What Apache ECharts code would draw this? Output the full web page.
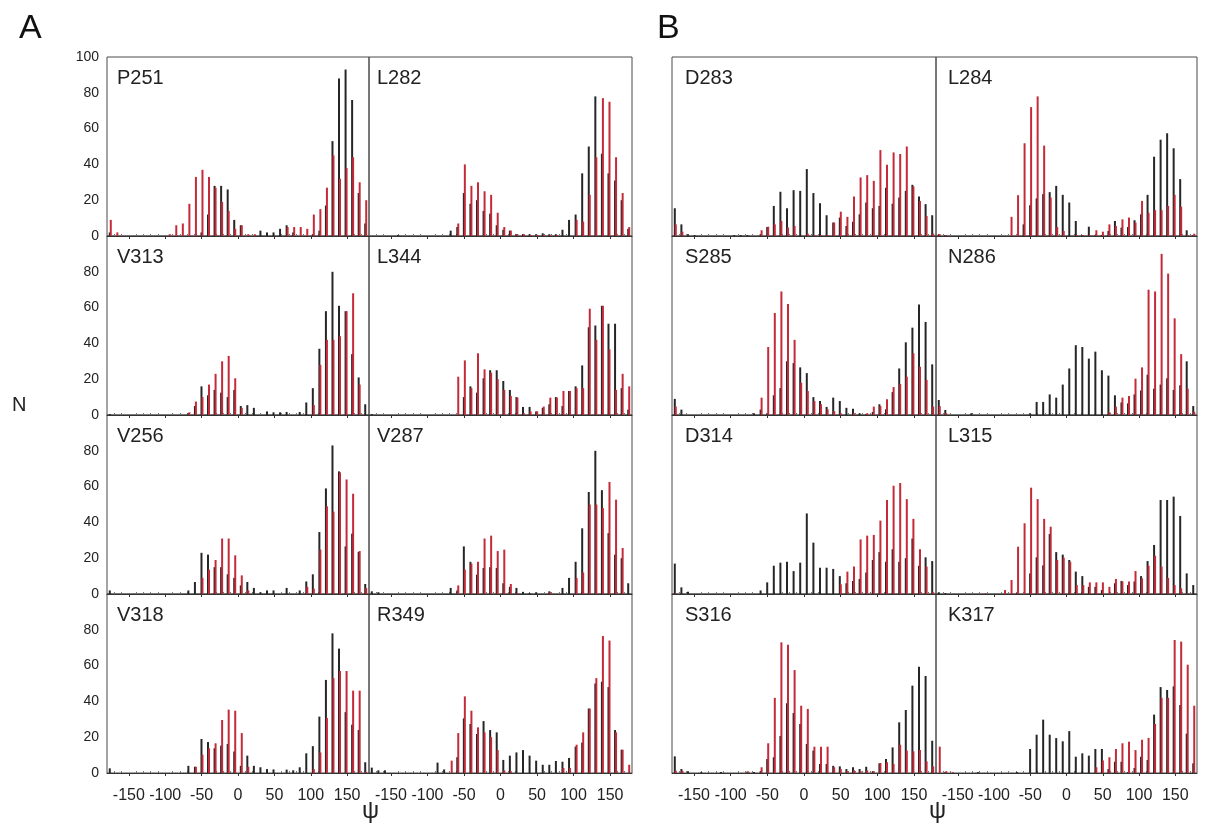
<!DOCTYPE html>
<html><head><meta charset="utf-8">
<script src="https://cdn.jsdelivr.net/npm/echarts@6/dist/echarts.min.js"></script>
<style>html,body{margin:0;padding:0;background:#fff}#c{width:1205px;height:827px}</style>
</head><body><div id="c"></div>
<script>
// 9-degree psi bins, centres
const binCenters = [-175.5,-166.5,-157.5,-148.5,-139.5,-130.5,-121.5,-112.5,-103.5,-94.5,-85.5,-76.5,-67.5,-58.5,-49.5,-40.5,-31.5,-22.5,-13.5,-4.5,4.5,13.5,22.5,31.5,40.5,49.5,58.5,67.5,76.5,85.5,94.5,103.5,112.5,121.5,130.5,139.5,148.5,157.5,166.5,175.5];
const xTickLabels = [-150,-100,-50,0,50,100,150];
const xMinorTicks = [-170,-160,-140,-130,-120,-110,-90,-80,-70,-60,-40,-30,-20,-10,10,20,30,40,60,70,80,90,110,120,130,140,160,170];
const yTickLabels = [0,20,40,60,80,100];

const P251_black = [2,0,0,0,0,0,0,0,0,0, 0,0,0,0,2,12,28,28,26,9, 6,0,0,3,2,2,4,6,2,0, 0,1,3,17,53,88,93,76,24,7];
const P251_red   = [9,2,0,0,0,0,0,0,0,1, 6,7,18,33,37,33,27,19,14,4, 6,1,1,0,0,0,0,5,5,5, 4,12,15,27,45,32,38,44,30,20];
const L282_black = [0,0,0,0,0.5,0,0,0,0,0, 0,0,3,5,24,18,20,14,12.5,6, 3.5,3,1,1,1,1,1.5,1,1,3.5, 9,12,35,50,78,46,35,31,20,4];
const L282_red   = [0,0,0,0,0,0,0,0,0,0, 0,0,0,7,40,28,30,25,23,13, 5,3,1,1,0.5,0.5,0.5,0.5,0.5,0, 0,9,8,23,44,77,75,44,24,5];
const V313_black = [0.5,0,0,0,0,0,0,0,0,0, 0,0,1,5,16,11,14,12.5,10,14, 5,5.5,4,0,2,1.5,1.5,1.7,0,1.7, 7,15,37,58,80,61,58,34,21,6];
const V313_red   = [0,0,0,0,0,0,0,0,0,0, 0,0,1.5,7.5,10,17,23,30,33,20.5, 4,0,0,0,0,0,0,0,0,0, 0,5.6,28,42,42,44,58,68,17,0];
const L344_black = [0.5,0,0,0,0,0,0,0,0,0, 0,0,0,0,10,16,12.5,20.5,25,25, 19,14,10,4.5,4.5,2,4,6,10,5, 13.4,16,27.7,49,50,61,51,51,15,3];
const L344_red   = [0,0,0,0,0,0,0,0,0,0, 0,0,0,21.4,30.5,15,34.5,25.5,23.6,20, 14,10.6,9.7,1,2,2,4.7,9.7,9.7,13.4, 13.4,15,15,59.4,42,61,36.7,14,23,16];
const V256_black = [2,0,0,0,0,0,0,0,0,0, 0,0,2,6.7,23,22,15,15,11,9, 4.8,6.7,3.4,1,2,2,0,3.4,0,2, 7,11,34.6,59,83,68.5,26.6,33.7,23.5,5.6];
const V256_red   = [0,0,0,0,0,0,0,0,0,0, 0,0,0,0,9,13.6,19,31,31,21.6, 10.4,2,0,0,0,0,0,0,0,0, 4,3,24.8,49,46,68,64,56,24,3.4];
const V287_black = [1.5,1,0,0,0,0,0,0,0,0, 0,0,3.4,2,26.6,18,10.8,14.5,15,14.5, 6,4,3.4,1.2,0.5,1,0,1.5,0,3.4, 9,18,36.7,57,80,58,34,22,20,6];
const V287_red   = [0,0,0,0,0,0,0,0,0,0, 0,0,0,4.8,13.6,17,18,31,32.6,24, 24.8,5.6,0.5,0,0,0,0,1,0,0, 0,9,12,50,50,48,62.6,52.7,25.7,0];
const V318_black = [2.6,0,0,0,0,0,0,0,0,0, 0,0,4,3.5,19,17.3,13.8,15.3,16.2,12, 4,9.7,4,3.2,2.2,2,0,1.9,1.5,3.2, 11,15,31.5,52,78,69.5,34,27,24,6];
const V318_red   = [0,0,0,0,0,0,0,0,0,0, 0,0,0,3.5,10.2,13.8,16.6,29.6,35.4,34.8, 22.3,3.5,0,0,0,0,0,0,0,0, 0,2.2,11.5,30.7,53,57,57,46,46,0.7];
const R349_black = [3,1.5,1.5,0,0,0,0,0,0,0, 5.8,2,0,8.8,30.5,27.4,21.8,29,24,22.7, 7.3,9.7,11.5,12.8,9.7,6.9,4.6,4.6,6.7,6.3, 8.4,14.7,17,36,50,51,48,24,13,0];
const R349_red   = [0,0,0,0,0,0,0,0,0,0, 0,0,6.9,22.3,42.8,34.8,25.5,22.7,20,12.8, 1.5,1,0,0,0,0,0,0,0,2.8, 2.8,15.8,22.7,36,53,76.5,74,22.7,13,4.6];

const D283_black = [15.5,6.5,1,0.5,0,0,0,0,0,0.5, 0.5,0.5,0,1,5,16.8,24.7,15.5,25.6,25.2, 37.4,24,18.3,11.6,7.5,10.3,5.6,8,12.1,18.7, 15.5,16.8,27,18,21.5,25.2,28.6,22,17.8,11.6];
const D283_red   = [6.5,2.4,0,0,0,0,0,0,0,0, 0,0,0,3.2,5.2,6.5,8.4,4.7,5.6,0, 1.3,0.5,0.5,0.5,7.5,13.6,10.7,22,32.7,34, 30.8,48,39.8,46.7,45.8,50,27.7,19.6,11.2,1.3];
const L284_black = [1,0.5,0,0,0,0,0,0,0,0, 0,0,0,6.5,17.2,21,23.4,24.5,28,23, 18.7,8.4,0.5,5.2,0.5,0.5,2.8,8.4,4.7,5, 8.8,12.1,23,44.3,53.8,57.4,49,31.8,3.2,0.5];
const L284_red   = [1,0.5,0,0,0,0,0,0,0,0, 0,10.7,22.8,51.8,72,78,50.5,21.5,5,2.8, 0,0.5,0.5,0.5,3.2,2.4,6.5,5.6,9.3,10.3, 7.5,19.6,13,14.4,14.4,16.8,23,16.4,0.5,1.3];
const S285_black = [9,3,0,0,0,0,0,0,0,0, 0,0,1,3,1,11,15,30,29,26.6, 23.4,10,7.8,4.5,9.7,7.8,4,3.5,1,0.5, 1.7,6,3.2,12.8,26,40.6,48.8,61.8,52,28.3];
const S285_red   = [4.7,0,0,0,0,0,0,0,0,0, 0,0,0,9.7,38,57,69,62,42,18, 13.4,7.8,6,3.2,2.2,1,0,1,0,1, 4.7,5,8.8,15.6,17.3,21.4,34.5,27,19.6,4.7];
const N286_black = [8.4,2.8,0,0,0,1,0,0,0,0, 0,0,0,0,1,7.3,7.3,11.5,9.7,17, 26,39,38,31.5,35.4,25,22,11,7,6.5, 11.5,13.7,22.5,14.7,17,20.5,14,16.6,30,5];
const N286_red   = [5,1,0,0,0,0,0,0,0,0, 0,0,0,0,0,0,0,0,0,0, 0,0,0,0,0,0,1.5,4.7,9.7,10.6, 20.3,26.6,70,69,90,79,54,34,14.7,1.8];
const D314_black = [17,3.7,1.3,0,0,0,0,0,0,0, 0,0,0,2,6.5,15.8,17.5,18,12.8,17.5, 45,28.7,14.7,14.7,14,10,6,7.3,8.4,12, 19,23.4,18,25,18,20,31,15.8,20.5,18.4];
const D314_red   = [0.5,0,0,0,0,0,0,0,0,0, 0,0,0,0,0,0,0,0,0,0, 0,0,0,0,0,5.4,12.5,15.3,30.5,32.6, 33,41,52.5,60.5,62,53,42,25,15.3,1];
const L315_black = [1,0.5,0,0,0,0,0,0,0,0, 0,0,0.5,0,11.5,20.5,16,33.5,23.4,22, 19,12.5,10,4,4,2.2,0,6,7.3,5, 7,10,18.4,27.4,52.5,52.5,54.4,43.6,11.5,5];
const L315_red   = [0,0,0,0,0,0,0,0.5,0,0, 2.2,7.8,26.4,39.5,59.4,53,42,37.6,19,20.3, 18,5,5,6.5,6.5,6.5,4,8.4,7,7, 12.8,8.8,15.8,21.4,15.3,9,5,3.2,0.5,0];
const S316_black = [9.3,2.2,1,0,0.5,0,0,0.5,0,0, 0,0.8,0.5,1,7.8,8.8,20.7,39,33.5,27.4, 16.2,12.5,5,5,4,3.7,2.2,3.2,2.2,3.5, 1,5.4,7.8,14.3,28.3,35.2,48.8,59.4,54.2,18];
const S316_red   = [1.3,1.3,0,0,0,0,0,0,0,0, 0,0.8,0,3.2,16.6,42,73,71.7,57.5,37.6, 35.8,14.7,14.7,14.7,3.2,2.2,1,1.5,1,1.5, 1,5.6,6,5,15.8,12.5,12.1,12.8,6.5,3.7];
const K317_black = [0,0.5,0,0,0,0,0.5,0,0,0, 0,0,0.5,0,13.4,21.4,29.8,21.4,19.5,17.7, 23.4,9.1,11,9.7,13.4,13.4,2.2,6.3,6.3,0.5, 2.8,9.1,7.3,32.6,48,46.4,48.4,38,22,5.4];
const K317_red   = [14.7,1,0.5,0,0,0,0,0,0,0, 0,0,0,0,0,0,0,0,0,0, 0,0,0,0,3.2,7,8.8,13.4,16.6,17.5, 12.8,18.6,19.6,27.4,42,42,74.3,73.4,60.5,37.6];

const panels = [
  {name:'P251', black:P251_black, red:P251_red, col:0, row:0},
  {name:'L282', black:L282_black, red:L282_red, col:1, row:0},
  {name:'V313', black:V313_black, red:V313_red, col:0, row:1},
  {name:'L344', black:L344_black, red:L344_red, col:1, row:1},
  {name:'V256', black:V256_black, red:V256_red, col:0, row:2},
  {name:'V287', black:V287_black, red:V287_red, col:1, row:2},
  {name:'V318', black:V318_black, red:V318_red, col:0, row:3},
  {name:'R349', black:R349_black, red:R349_red, col:1, row:3},
  {name:'D283', black:D283_black, red:D283_red, col:2, row:0},
  {name:'L284', black:L284_black, red:L284_red, col:3, row:0},
  {name:'S285', black:S285_black, red:S285_red, col:2, row:1},
  {name:'N286', black:N286_black, red:N286_red, col:3, row:1},
  {name:'D314', black:D314_black, red:D314_red, col:2, row:2},
  {name:'L315', black:L315_black, red:L315_red, col:3, row:2},
  {name:'S316', black:S316_black, red:S316_red, col:2, row:3},
  {name:'K317', black:K317_black, red:K317_red, col:3, row:3}
];
panels.forEach(p => { if (p.black.length !== 40 || p.red.length !== 40) throw new Error(p.name + ' length ' + p.black.length + '/' + p.red.length); });

// layout
const colEdges = [[107,369],[369,632],[672,936],[936,1197]];
const labelOffset = [10, 8, 13, 12];
const rowTops = [57,236,415,594];
const rowH = 179;
const FONT = 'Liberation Sans, Arial, Helvetica, sans-serif';
const BLACK = '#262626', RED = '#c42a38';

const grid = [], xAxis = [], yAxis = [], series = [], graphic = [];
panels.forEach((p, i) => {
  const [x0, x1] = colEdges[p.col];
  const top = rowTops[p.row];
  grid.push({left:x0, top:top, width:x1-x0, height:rowH, show:true, borderColor:'#4a4a4a', borderWidth:1, backgroundColor:'transparent'});
  xAxis.push({
    gridIndex:i, type:'value', min:-180, max:180, position:'bottom',
    axisLine:{show:true, onZero:false, lineStyle:{color:'#333', width:1}},
    axisTick:{show:true, customValues:xTickLabels, length:3, lineStyle:{color:'#333'}},
    axisLabel:{show:p.row===3, customValues:xTickLabels, fontSize:16, color:'#222', margin:15, fontFamily:FONT, hideOverlap:false},
    splitLine:{show:false}
  });
  xAxis.push({
    gridIndex:i, type:'value', min:-180, max:180, position:'bottom',
    axisLine:{show:false, onZero:false},
    axisTick:{show:true, inside:true, customValues:xMinorTicks, length:2, lineStyle:{color:'#777'}},
    axisLabel:{show:false}, splitLine:{show:false}
  });
  yAxis.push({
    gridIndex:i, type:'value', min:0, max:100, interval:20,
    axisLine:{show:false, onZero:false},
    axisTick:{show:false},
    axisLabel:{show:p.col===0, fontSize:14, color:'#222', margin:8, fontFamily:FONT,
      formatter: v => (p.row > 0 && v === 100) ? '' : String(v)},
    splitLine:{show:false}
  });
  const mk = vals => binCenters.map((c, k) => [c, vals[k]]);
  series.push({type:'bar', name:p.name+' black', xAxisIndex:2*i, yAxisIndex:i, data:mk(p.black),
    barWidth:2, barGap:'-50%', itemStyle:{color:BLACK}, silent:true, animation:false});
  series.push({type:'bar', name:p.name+' red', xAxisIndex:2*i, yAxisIndex:i, data:mk(p.red),
    barWidth:2, barGap:'-50%', itemStyle:{color:RED}, silent:true, animation:false});
  graphic.push({type:'text', left:x0+labelOffset[p.col], top:top+22-11,
    style:{text:p.name, font:'20px '+FONT, fill:'#222'}});
});

graphic.push({type:'text', left:19, top:12, style:{text:'A', font:'34px '+FONT, fill:'#111'}});
graphic.push({type:'text', left:657, top:12, style:{text:'B', font:'34px '+FONT, fill:'#111'}});
graphic.push({type:'text', left:12, top:395, style:{text:'N', font:'20px '+FONT, fill:'#222'}});
graphic.push({type:'text', left:362, top:799, style:{text:'ψ', font:'24px '+FONT, fill:'#222'}});
graphic.push({type:'text', left:929, top:799, style:{text:'ψ', font:'24px '+FONT, fill:'#222'}});

const chart = echarts.init(document.getElementById('c'), null, {renderer:'canvas'});
chart.setOption({animation:false, backgroundColor:'#fff', grid, xAxis, yAxis, series, graphic});
</script>
</body></html>
